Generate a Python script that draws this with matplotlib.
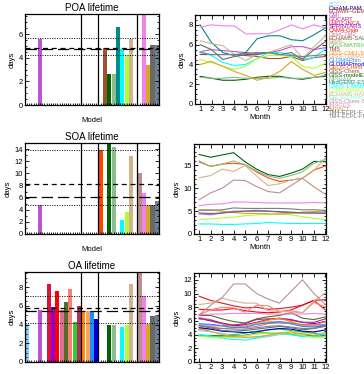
import numpy as np
import matplotlib
matplotlib.use("Agg")
import matplotlib.pyplot as plt

plt.rcParams['font.family'] = ['Liberation Sans', 'DejaVu Sans']

# ---------------- data ----------------
models = ["BCC", "CanAM-PAM", "ECMWF-GEMS", "GMI", "GOCART", "LMDZ-INCA", "SPRINTARS",
          "CAM4-Oslo", "OsloCTM2", "ECHAM5-SALSA", "EMAC", "GISS-MATRIX", "TM5",
          "GISS-CMU-TOMAS", "GISS-TOMAS", "GLOMAPbin", "GLOMAPmode", "GEOS-Chem",
          "GISS-Chem", "GISS-modelE", "MPIHAM", "HadGEM2-ES", "CAM5.1-MAM3",
          "CAM5-MAM3", "ECHAM5-HAM", "GEOS-Chem-APM", "GISS-Chem-SOA", "IMAGES",
          "IMPACT", "TM4-ECPL-F", "TM4-ECPL-FNG"]
colors = ["#87cefa", "#000080", "#b22222", "#ba55d3", "#c71585", "#dc143c", "#9400d3",
          "#ff0000", "#db7093", "#556b2f", "#fa8072", "#32cd32", "#b03060",
          "#ff8c00", "#f4a460", "#1e90ff", "#0000cd", "#ff4500",
          "#a0522d", "#006400", "#8fbc8f", "#008b8b", "#00ffff",
          "#adff2f", "#d2b48c", "#7fffd4", "#bc8f8f", "#ee82ee",
          "#daa520", "#696969", "#708090"]

nan = np.nan
poa_life = [nan, nan, nan, 5.6, nan, nan, nan, nan, nan, nan, nan, nan, nan,
            nan, nan, nan, nan, nan, 4.8, 2.6, 2.6, 6.6, 4.7, 4.2, 5.6, nan,
            nan, 8.5, 3.4, 5.1, 5.05]
soa_life = [nan, nan, nan, 4.76, nan, nan, nan, nan, nan, nan, nan, nan, nan,
            nan, nan, nan, nan, 13.8, nan, 15.5, 14.3, nan, 2.35, 3.7, 12.9, nan,
            10.1, 6.7, 4.76, 4.76, 5.4]
oa_life = [4.1, nan, nan, 5.5, nan, 8.35, 5.85, 7.6, 5.6, 6.45, 7.75, 4.3, 6.0,
           5.4, 5.4, 5.4, 4.6, nan, nan, 4.0, 3.9, nan, 3.75, 3.9, 8.35, nan,
           10.2, 7.0, 4.1, 4.9, 5.0]

# reference lines: (dotted high, short dash, long dash, dotted low)
poa_ref = [5.7, 4.8, 4.77, 4.2]
soa_ref = [13.8, 8.3, 6.05, 4.76]
oa_ref = [7.05, 5.75, 5.4, 4.2]

months = list(range(1, 13))

poa_monthly = {
    "GMI":          [5.3, 5.5, 5.4, 5.3, 5.2, 5.1, 5.2, 5.4, 5.8, 5.8, 5.5, 5.7],
    "GISS-Chem":    [5.0, 5.0, 5.0, 5.0, 4.9, 4.8, 4.6, 4.6, 4.8, 4.4, 4.7, 4.8],
    "GISS-modelE":  [2.8, 2.6, 2.4, 2.4, 2.5, 2.7, 2.8, 2.8, 2.6, 2.5, 2.7, 2.8],
    "MPIHAM":       [2.7, 2.6, 2.6, 2.7, 2.6, 2.6, 2.6, 2.7, 2.6, 2.6, 2.7, 2.9],
    "HadGEM2-ES":   [8.0, 6.2, 5.2, 4.9, 5.2, 6.6, 6.9, 6.9, 6.5, 6.4, 7.0, 7.7],
    "CAM5.1-MAM3":  [5.3, 4.9, 4.2, 3.9, 4.0, 4.6, 5.2, 5.2, 5.0, 4.5, 4.7, 5.6],
    "CAM5-MAM3":    [4.5, 4.2, 3.8, 3.5, 3.8, 4.6, 4.9, 4.9, 4.8, 3.8, 3.6, 4.1],
    "ECHAM5-HAM":   [6.4, 6.1, 5.9, 5.0, 4.4, 5.0, 5.2, 5.6, 6.0, 4.6, 5.8, 6.9],
    "IMAGES":       [7.8, 8.0, 7.9, 7.9, 7.1, 7.1, 7.1, 7.5, 8.0, 7.6, 8.0, 7.7],
    "IMPACT":       [4.0, 4.3, 3.8, 3.3, 2.9, 2.4, 2.7, 3.3, 4.3, 3.5, 2.9, 3.2],
    "TM4-ECPL-F":   [6.0, 5.5, 4.5, 4.8, 5.0, 5.0, 5.2, 5.0, 5.2, 4.5, 5.5, 6.3],
    "TM4-ECPL-FNG": [5.2, 5.0, 5.0, 5.0, 5.1, 5.2, 5.2, 5.0, 4.9, 4.8, 4.9, 5.0],
}

soa_monthly = {
    "GMI":          [4.4, 4.2, 4.6, 5.0, 5.0, 5.2, 5.0, 4.8, 4.6, 4.6, 4.6, 4.6],
    "GEOS-Chem":    [15.8, 14.8, 15.3, 15.5, 15.2, 13.6, 12.3, 11.5, 11.8, 12.2, 14.0, 14.9],
    "GISS-modelE":  [17.4, 16.8, 17.3, 17.8, 15.8, 14.2, 13.0, 12.6, 13.3, 14.2, 15.9, 15.8],
    "MPIHAM":       [16.0, 14.8, 15.3, 16.0, 15.2, 13.8, 12.7, 12.2, 12.8, 13.6, 15.5, 16.3],
    "CAM5.1-MAM3":  [2.2, 2.2, 2.1, 2.1, 2.2, 2.3, 2.5, 2.4, 2.3, 2.3, 2.3, 2.3],
    "CAM5-MAM3":    [3.2, 3.3, 3.5, 3.7, 4.0, 4.2, 4.3, 4.3, 4.2, 3.8, 3.4, 3.2],
    "ECHAM5-HAM":   [12.3, 12.8, 14.2, 13.7, 15.0, 12.7, 10.6, 11.0, 11.8, 12.2, 13.9, 16.6],
    "GISS-Chem-SOA": [7.5, 9.0, 10.0, 11.8, 11.7, 10.4, 9.3, 9.0, 10.6, 12.2, 10.3, 8.7],
    "IMAGES":       [6.2, 6.5, 6.6, 7.0, 7.0, 6.9, 6.8, 6.8, 6.8, 6.8, 6.9, 6.8],
    "IMPACT":       [5.3, 5.3, 5.0, 4.7, 4.5, 4.5, 4.4, 4.4, 4.5, 4.8, 4.9, 5.0],
    "TM4-ECPL-F":   [4.6, 4.5, 4.6, 4.8, 5.0, 5.0, 5.0, 4.9, 4.8, 4.6, 4.6, 4.5],
    "TM4-ECPL-FNG": [5.2, 5.2, 5.3, 5.7, 5.6, 5.6, 5.6, 5.6, 5.5, 5.3, 5.3, 5.2],
}

oa_monthly = {
    "BCC":          [4.6, 4.4, 4.2, 3.9, 3.6, 3.5, 3.7, 4.0, 4.2, 4.2, 4.3, 4.6],
    "GMI":          [5.4, 5.4, 5.3, 5.4, 5.5, 5.6, 5.7, 5.7, 5.6, 5.5, 5.4, 5.5],
    "LMDZ-INCA":    [9.6, 9.0, 8.6, 8.2, 7.9, 8.0, 7.7, 7.8, 8.0, 8.3, 9.0, 7.6],
    "SPRINTARS":    [6.4, 6.0, 5.6, 5.3, 5.4, 5.8, 6.2, 6.4, 6.2, 5.8, 5.6, 5.9],
    "CAM4-Oslo":    [7.7, 7.6, 7.6, 7.8, 7.5, 7.3, 7.2, 7.3, 7.6, 8.3, 9.0, 9.1],
    "OsloCTM2":     [6.5, 6.2, 5.6, 5.2, 5.0, 5.2, 5.6, 5.8, 5.8, 5.4, 5.4, 5.9],
    "ECHAM5-SALSA": [6.8, 6.8, 6.3, 5.9, 5.7, 6.3, 6.6, 6.8, 7.2, 6.4, 6.2, 6.6],
    "EMAC":         [6.9, 7.6, 8.0, 7.9, 7.3, 8.3, 8.2, 7.4, 7.5, 7.2, 8.7, 8.0],
    "GISS-MATRIX":  [3.9, 3.9, 3.8, 4.0, 4.2, 4.5, 4.7, 4.8, 4.6, 4.4, 4.2, 3.9],
    "TM5":          [6.3, 6.1, 5.7, 5.4, 5.6, 6.2, 6.3, 6.3, 6.1, 5.8, 5.8, 6.3],
    "GISS-CMU-TOMAS": [4.8, 4.8, 4.9, 5.0, 5.3, 5.7, 6.1, 6.4, 5.9, 5.3, 5.2, 5.2],
    "GISS-TOMAS":   [5.0, 5.2, 5.3, 5.1, 5.3, 5.6, 5.9, 5.9, 5.6, 5.2, 5.2, 5.5],
    "GLOMAPbin":    [5.6, 5.5, 5.3, 5.0, 5.1, 5.5, 5.7, 5.9, 5.6, 5.2, 5.1, 5.4],
    "GLOMAPmode":   [5.0, 4.8, 4.5, 4.4, 4.3, 4.4, 4.7, 4.9, 4.8, 4.5, 4.4, 4.7],
    "GISS-modelE":  [3.9, 3.8, 3.8, 3.8, 3.9, 4.2, 4.3, 4.3, 4.1, 3.9, 3.8, 3.9],
    "MPIHAM":       [3.8, 3.7, 3.7, 3.8, 3.9, 4.1, 4.2, 4.2, 4.0, 3.8, 3.7, 3.8],
    "CAM5.1-MAM3":  [4.0, 3.8, 3.5, 3.3, 3.2, 3.5, 3.9, 4.2, 4.0, 3.7, 3.7, 4.1],
    "CAM5-MAM3":    [3.8, 3.6, 3.5, 3.6, 3.8, 4.1, 4.3, 4.3, 4.2, 3.9, 3.6, 3.6],
    "ECHAM5-HAM":   [8.4, 8.6, 9.3, 8.9, 8.6, 8.6, 7.5, 7.4, 7.3, 7.2, 8.9, 10.1],
    "GISS-Chem-SOA": [6.9, 8.3, 9.4, 11.4, 11.4, 10.0, 9.2, 8.6, 10.3, 12.0, 10.0, 8.4],
    "IMAGES":       [6.9, 7.0, 7.0, 7.1, 7.1, 7.1, 7.0, 7.0, 7.0, 7.0, 7.1, 7.0],
    "IMPACT":       [4.8, 4.5, 4.0, 3.7, 3.6, 3.7, 3.9, 4.2, 4.4, 4.1, 3.9, 4.3],
    "TM4-ECPL-F":   [5.3, 5.0, 4.6, 4.5, 4.6, 4.8, 5.0, 5.2, 5.0, 4.7, 4.9, 5.3],
    "TM4-ECPL-FNG": [5.3, 5.1, 4.9, 4.8, 4.8, 5.0, 5.2, 5.3, 5.1, 4.9, 4.9, 5.2],
}

# ---------------- figure ----------------
W, H = 364, 374
fig = plt.figure(figsize=(W / 100, H / 100), dpi=100)


def ax_px(x0, y0, x1, y1):
    return fig.add_axes([x0 / W, 1 - y1 / H, (x1 - x0) / W, (y1 - y0) / H])


FS = 5.5
cmap = dict(zip(models, colors))
separators = [12.5, 16.5, 25.5]


def style_axes(ax):
    for s in ax.spines.values():
        s.set_linewidth(0.9)
    ax.tick_params(direction='in', which='both', top=True, right=True,
                   labelsize=FS, width=0.6, pad=1.5)
    ax.tick_params(which='major', length=3)
    ax.tick_params(which='minor', length=1.5)


def bar_panel(ax, vals, ref, ylim, yticks, ymin_step, title, xlabel=True):
    x = np.arange(len(models))
    ax.bar(x, vals, width=0.95, color=colors, linewidth=0)
    ax.set_xlim(-0.5, len(models) - 0.5)
    ax.set_ylim(*ylim)
    ax.set_yticks(yticks)
    ax.set_yticks(np.arange(0, ylim[1], ymin_step), minor=True)
    ax.set_xticks(np.arange(-0.5, len(models), 1))
    ax.set_xticks(np.arange(0, len(models), 1), minor=True)
    ax.set_xticklabels([])
    for s in separators:
        ax.axvline(s, color='black', lw=0.9)
    ax.axhline(ref[0], color='black', ls=(0, (1, 1.5)), lw=0.7)
    ax.axhline(ref[1], color='black', ls=(0, (4, 3)), lw=0.9)
    ax.axhline(ref[2], color='black', ls=(0, (9, 4)), lw=0.9)
    ax.axhline(ref[3], color='black', ls=(0, (1, 1.5)), lw=0.7)
    style_axes(ax)
    ax.tick_params(axis='x', which='both', top=False, length=1.5)
    ax.set_title(title, fontsize=7, pad=2)
    ax.set_ylabel("days", fontsize=FS, labelpad=2)
    if xlabel:
        ax.set_xlabel("Model", fontsize=FS, labelpad=7)


def line_panel(ax, data, ylim, yticks, ymin_step, xlabel=True):
    for name, vals in data.items():
        ax.plot(months, vals, color=cmap[name], lw=0.8)
    ax.set_xlim(0.55, 12.05)
    ax.set_ylim(*ylim)
    ax.set_xticks(months)
    ax.set_yticks(yticks)
    ax.set_yticks(np.arange(0, ylim[1], ymin_step), minor=True)
    style_axes(ax)
    ax.set_ylabel("days", fontsize=FS, labelpad=2)
    if xlabel:
        ax.set_xlabel("Month", fontsize=FS, labelpad=1)


ax1 = ax_px(25, 14, 159, 105)
bar_panel(ax1, poa_life, poa_ref, (0, 7.7), [0, 2, 4, 6], 0.5, "POA lifetime")
ax2 = ax_px(195, 15, 326, 104)
line_panel(ax2, poa_monthly, (0, 9.0), [0, 2, 4, 6, 8], 0.5)

ax3 = ax_px(25, 143, 159, 234)
bar_panel(ax3, soa_life, soa_ref, (0, 15.0), list(range(0, 15, 2)), 1, "SOA lifetime")
ax4 = ax_px(194, 144, 326, 234)
line_panel(ax4, soa_monthly, (0, 19.7), [0, 5, 10, 15], 1)

ax5 = ax_px(25, 272, 159, 362)
bar_panel(ax5, oa_life, oa_ref, (0, 9.6), [0, 2, 4, 6, 8], 0.5, "OA lifetime",
          xlabel=False)
ax6 = ax_px(194, 273, 326, 362)
line_panel(ax6, oa_monthly, (0, 13.0), list(range(0, 13, 2)), 0.5, xlabel=False)

# legend as coloured text list
y0, y1 = 4.5, 116.5
step = (y1 - y0) / (len(models) - 1)
for i, (name, c) in enumerate(zip(models, colors)):
    fig.text(328.5 / W, 1 - (y0 + i * step) / H, name, color=c, fontsize=4.2,
             va='center', ha='left')

fig.savefig("out.png", dpi=100)
